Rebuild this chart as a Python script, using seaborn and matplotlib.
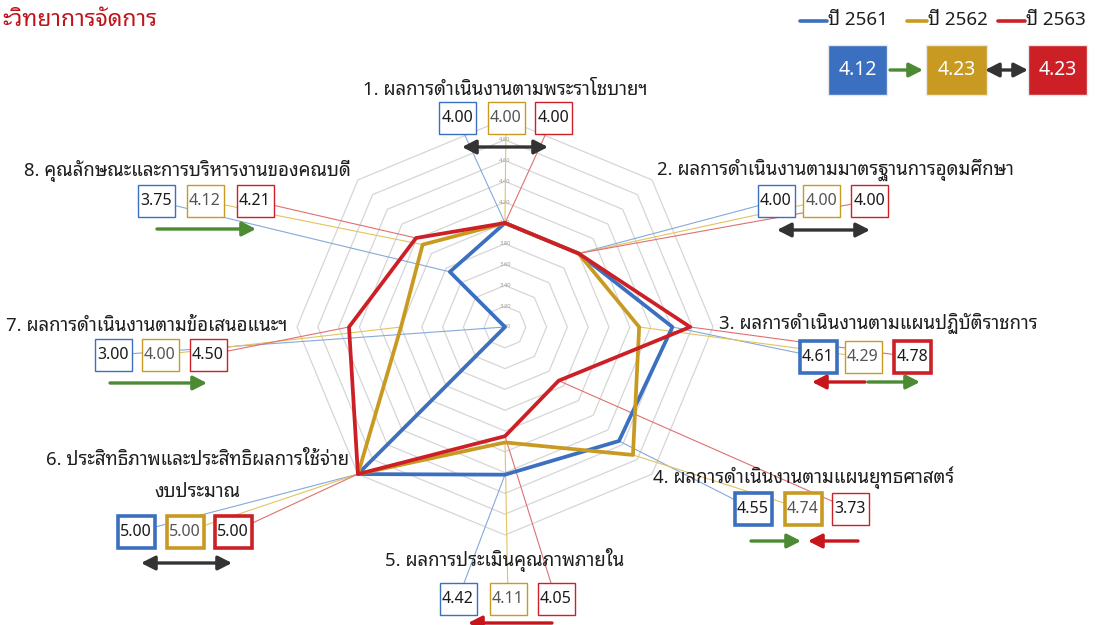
import numpy as np
import pandas as pd
import matplotlib
matplotlib.use("Agg")
import matplotlib.pyplot as plt
import seaborn as sns
from matplotlib.patches import Rectangle, FancyArrowPatch
from matplotlib.lines import Line2D

# ---------------- data ----------------
categories = [
    "1. ผลการดำเนินงานตามพระราโชบายฯ",
    "2. ผลการดำเนินงานตามมาตรฐานการอุดมศึกษา",
    "3. ผลการดำเนินงานตามแผนปฏิบัติราชการ",
    "4. ผลการดำเนินงานตามแผนยุทธศาสตร์",
    "5. ผลการประเมินคุณภาพภายใน",
    "6. ประสิทธิภาพและประสิทธิผลการใช้จ่าย\nงบประมาณ",
    "7. ผลการดำเนินงานตามข้อเสนอแนะฯ",
    "8. คุณลักษณะและการบริหารงานของคณบดี",
]
years = ["ปี 2561", "ปี 2562", "ปี 2563"]
v2561 = [4.00, 4.00, 4.61, 4.55, 4.42, 5.00, 3.00, 3.75]
v2562 = [4.00, 4.00, 4.29, 4.74, 4.11, 5.00, 4.00, 4.12]
v2563 = [4.00, 4.00, 4.78, 3.73, 4.05, 5.00, 4.50, 4.21]
overall = [4.12, 4.23, 4.23]
r_ticks = [3.00, 3.20, 3.40, 3.60, 3.80, 4.00, 4.20, 4.40, 4.60, 4.80]
r_rings = [3.20, 3.40, 3.60, 3.80, 4.00, 4.20, 4.40, 4.60, 4.80, 5.00]
title_text = "ะวิทยาการจัดการ"

series = [v2561, v2562, v2563]
colors = ["#3B6FBF", "#C99A22", "#CC1F26"]
light = ["#86A9DA", "#E2C45E", "#E07070"]
GREEN, RED, DARK = "#4C8A33", "#C8151B", "#333333"

W, H = 1095, 625
def fx(x): return x / W
def fy(y): return 1 - y / H

sns.set_theme(style="white")
plt.rcParams["font.family"] = ["Noto Sans Thai Looped", "Sarabun", "DejaVu Sans"]

fig = plt.figure(figsize=(W / 100, H / 100), dpi=100)
fig.patch.set_facecolor("white")

cx, cy, R = 505, 327, 208
ax = fig.add_axes([fx(cx - R), fy(cy + R), 2 * R / W, 2 * R / H], projection="polar")
ax.set_theta_zero_location("N")
ax.set_theta_direction(-1)

n = len(categories)
theta = np.deg2rad(np.arange(n) * 360.0 / n)
theta_c = np.append(theta, theta[0] + 2 * np.pi)

# grid rings (octagons)
for r in r_rings:
    ax.plot(theta_c, [r] * (n + 1), color="#D6D6D6", lw=0.9, zorder=1, clip_on=False)
for r in r_ticks:
    ax.text(0, r, f"{r:.2f}", ha="center", va="center", fontsize=4.2, color="#9A9A9A", zorder=1.2)

rows = []
for yname, vals in zip(years, series):
    vc = list(vals) + [vals[0]]
    for k in range(n + 1):
        rows.append({"theta": theta_c[k], "value": vc[k], "year": yname, "k": k})
df = pd.DataFrame(rows)
sns.lineplot(data=df, x="theta", y="value", hue="year", palette=colors, sort=False,
             estimator=None, lw=2.7, legend=False, ax=ax, zorder=3)
for l in ax.lines:
    l.set_clip_on(False)

ax.set_ylim(3.0, 5.0)
ax.set_xticks([])
ax.set_yticks([])
ax.set_xlabel("")
ax.set_ylabel("")
ax.grid(False)
ax.spines["polar"].set_visible(False)
ax.patch.set_alpha(0)

# ---------------- labels, value boxes, leader lines ----------------
label_pos = [(505, 90), (835, 170), (878, 323), (804, 478), (505, 560), (198, 476), (147, 326), (187, 171)]
box_pos = [
    ([457, 506, 553], 118),
    ([776, 821, 869], 201),
    ([818, 863, 912], 357),
    ([753, 803, 850], 509),
    ([458, 508, 556], 599),
    ([136, 185, 233], 532),
    ([113, 160, 208], 355),
    ([156, 205, 255], 201),
]
thick = [
    (0, 0, 0), (0, 0, 0), (1, 0, 1), (1, 1, 0),
    (0, 0, 0), (1, 1, 1), (0, 0, 0), (0, 0, 0),
]
text_cols = ["#1A1A1A", "#555555", "#1A1A1A"]

for i in range(n):
    lx, ly = label_pos[i]
    fig.text(fx(lx), fy(ly), categories[i], ha="center", va="center", fontsize=13.4,
             color="#1E1E1E", linespacing=2.0, zorder=6)
    xs, by = box_pos[i]
    for j in range(3):
        ax.annotate("", xy=(theta[i], series[j][i]), xycoords="data",
                    xytext=(fx(xs[j]), fy(by)), textcoords="figure fraction",
                    arrowprops=dict(arrowstyle="-", color=light[j], lw=0.8,
                                    shrinkA=0, shrinkB=0), zorder=1.5)
        bw, bh = 37, 32
        rect = Rectangle((fx(xs[j] - bw / 2), fy(by + bh / 2)), bw / W, bh / H,
                         transform=fig.transFigure, facecolor="white",
                         edgecolor=colors[j], lw=2.6 if thick[i][j] else 1.0, zorder=5)
        fig.add_artist(rect)
        fig.text(fx(xs[j]), fy(by), f"{series[j][i]:.2f}", ha="center", va="center",
                 fontsize=11.5, color=text_cols[j], zorder=6)

def arrow(x0, x1, y, color, double=False):
    style = "<|-|>" if double else "-|>"
    a = FancyArrowPatch((fx(x0), fy(y)), (fx(x1), fy(y)), transform=fig.transFigure,
                        arrowstyle=f"{style},head_length=0.55,head_width=0.28",
                        mutation_scale=15, color=color, lw=2.4, zorder=6,
                        shrinkA=0, shrinkB=0)
    fig.add_artist(a)

arrow(462, 548, 147, DARK, True)
arrow(777, 870, 230, DARK, True)
arrow(865, 812, 382, RED)
arrow(868, 920, 382, GREEN)
arrow(751, 801, 541, GREEN)
arrow(858, 808, 541, RED)
arrow(552, 468, 623, RED)
arrow(141, 232, 563, DARK, True)
arrow(110, 207, 383, GREEN)
arrow(157, 256, 229, GREEN)

# ---------------- legend ----------------
leg_x = [(800, 827), (907, 927), (998, 1025)]
for j in range(3):
    x0, x1 = leg_x[j]
    fig.add_artist(Line2D([fx(x0), fx(x1)], [fy(21), fy(21)], transform=fig.transFigure,
                          color=colors[j], lw=2.6))
    fig.text(fx(x1 + 1), fy(20), years[j], ha="left", va="center", fontsize=13.5, color="#1E1E1E")

sum_x = [(828, 887), (926, 987), (1028, 1087)]
for j in range(3):
    x0, x1 = sum_x[j]
    fig.add_artist(Rectangle((fx(x0), fy(95)), (x1 - x0) / W, 50 / H, transform=fig.transFigure,
                             facecolor=colors[j], edgecolor="#E8E8E8", lw=1.0, zorder=5))
    fig.text(fx((x0 + x1) / 2), fy(70), f"{overall[j]:.2f}", ha="center", va="center",
             fontsize=14, color="white", zorder=6)
arrow(890, 923, 70, GREEN)
arrow(985, 1028, 70, DARK, True)

# ---------------- title (cropped) ----------------
fig.text(fx(157), fy(20), title_text, ha="right", va="center", fontsize=16.5,
         color="#C0141C", fontweight="bold")

fig.savefig("out.png", dpi=100)
